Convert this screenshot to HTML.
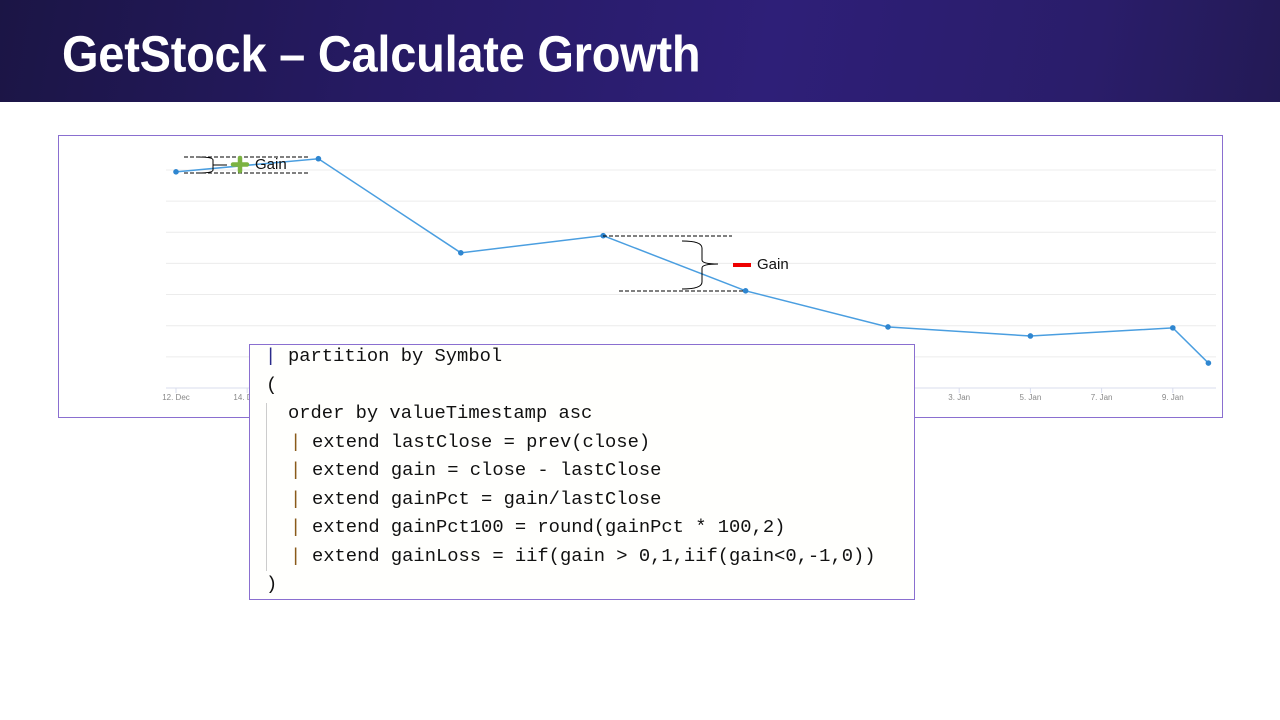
<!DOCTYPE html>
<html><head><meta charset="utf-8"><style>
body{margin:0;width:1280px;height:720px;overflow:hidden;background:#fff;position:relative;font-family:"Liberation Sans",sans-serif}
#hdr{position:absolute;left:0;top:0;width:1280px;height:102px;background:linear-gradient(100deg,#1b1545 0%,#261a63 30%,#2e1f78 60%,#2a1d6a 85%,#231a55 100%)}
#title{position:absolute;left:62px;top:24px;color:#fff;font-weight:bold;font-size:47px;letter-spacing:-0.25px;white-space:nowrap;transform:scaleY(1.08);transform-origin:0 0}
#chartbox{position:absolute;left:58px;top:135px;width:1163px;height:281px;border:1px solid #8a6fd0}
#code{position:absolute;left:249px;top:344px;width:664px;height:254px;border:1px solid #8a6fd0;background:#fffffd;font-family:"Liberation Mono",monospace;font-size:18.8px;color:#111}
.ln{position:absolute;white-space:pre;height:28px;line-height:28px}
.p{color:#2b2b8a}.q{color:#8a5a1a}
</style></head><body>
<div id="hdr"><div id="title">GetStock – Calculate Growth</div></div>
<div id="chartbox"></div>
<svg id="chart" width="1280" height="720" style="position:absolute;left:0;top:0"></svg>
<div id="code">
<div class="ln p" style="left:15px;top:-3px">|</div><div class="ln" style="left:38px;top:-3px">partition by Symbol</div>
<div class="ln" style="left:16px;top:26px">(</div>
<div style="position:absolute;left:16px;top:58px;width:1px;height:168px;background:#ccc"></div>
<div class="ln" style="left:38px;top:54px">order by valueTimestamp asc</div>
<div class="ln q" style="left:40px;top:83px">|</div><div class="ln" style="left:62px;top:83px">extend lastClose = prev(close)</div>
<div class="ln q" style="left:40px;top:111px">|</div><div class="ln" style="left:62px;top:111px">extend gain = close - lastClose</div>
<div class="ln q" style="left:40px;top:140px">|</div><div class="ln" style="left:62px;top:140px">extend gainPct = gain/lastClose</div>
<div class="ln q" style="left:40px;top:168px">|</div><div class="ln" style="left:62px;top:168px">extend gainPct100 = round(gainPct * 100,2)</div>
<div class="ln q" style="left:40px;top:197px">|</div><div class="ln" style="left:62px;top:197px">extend gainLoss = iif(gain &gt; 0,1,iif(gain&lt;0,-1,0))</div>
<div class="ln" style="left:16px;top:225px">)</div>
</div>
<script>
const days=[0,4,8,12,16,20,24,28,29];
const values=[6.94,7.36,4.34,4.89,3.12,1.96,1.67,1.93,0.80];
const tickDays=[0,2,4,6,8,10,12,14,16,18,20,22,24,26,28];
const tickLabels=["12. Dec","14. Dec","16. Dec","18. Dec","20. Dec","22. Dec","24. Dec","26. Dec","28. Dec","30. Dec","1. Jan","3. Jan","5. Jan","7. Jan","9. Jan"];
const gridVals=[1,2,3,4,5,6,7];
const NS="http://www.w3.org/2000/svg";
const svg=document.getElementById('chart');
const xs=d=>176+d*35.6, ys=v=>388-v*31.15;
function mk(t,a){const e=document.createElementNS(NS,t);for(const k in a)e.setAttribute(k,a[k]);svg.appendChild(e);return e;}
gridVals.forEach(v=>{const l=mk('line',{x1:166,x2:1216,y1:ys(v),y2:ys(v),stroke:'#ececec','stroke-width':1});

});
const ax=mk('line',{x1:166,x2:1216,y1:388,y2:388,stroke:'#d8dcec'});


tickDays.forEach((d,i)=>{mk('line',{x1:xs(d),x2:xs(d),y1:388,y2:393,stroke:'#d8dcec'});
const t=mk('text',{x:xs(d),y:400,'font-size':8,fill:'#888','text-anchor':'middle','font-family':'Liberation Sans'});t.textContent=tickLabels[i];

});
const line=mk('polyline',{points:days.map((d,i)=>xs(d)+','+ys(values[i])).join(' '),fill:'none',stroke:'#4a9ee0','stroke-width':1.5});


days.forEach((d,i)=>{const c=mk('circle',{cx:xs(d),cy:ys(values[i]),r:2.8,fill:'#2f86d0'});

});
const dash={stroke:'#000','stroke-width':1,'stroke-dasharray':'4,2'};
mk('line',Object.assign({x1:184,x2:308,y1:157,y2:157},dash));
mk('line',Object.assign({x1:184,x2:308,y1:173,y2:173},dash));
mk('path',{d:'M198,157 Q213,157 213,160 L213,170 Q213,173 198,173 M213,165 L227,165',fill:'none',stroke:'#000','stroke-width':1});
mk('path',{d:'M240,158 V171 M233,164.5 H247',stroke:'#7cb342','stroke-width':4.5,'stroke-linecap':'round'});
let g1=mk('text',{x:255,y:169,'font-size':15,fill:'#111'});g1.textContent='Gain';


mk('line',Object.assign({x1:603,x2:732,y1:236,y2:236},dash));
mk('line',Object.assign({x1:619,x2:745,y1:291,y2:291},dash));
mk('path',{d:'M682,241 Q702,241 702,248 L702,260 Q702,264 718,264 Q702,264 702,268 L702,282 Q702,289 682,289',fill:'none',stroke:'#000','stroke-width':1});
mk('line',{x1:733,x2:751,y1:265,y2:265,stroke:'#e00','stroke-width':4});
let g2=mk('text',{x:757,y:269,'font-size':15,fill:'#111'});g2.textContent='Gain';


</script>
</body></html>
